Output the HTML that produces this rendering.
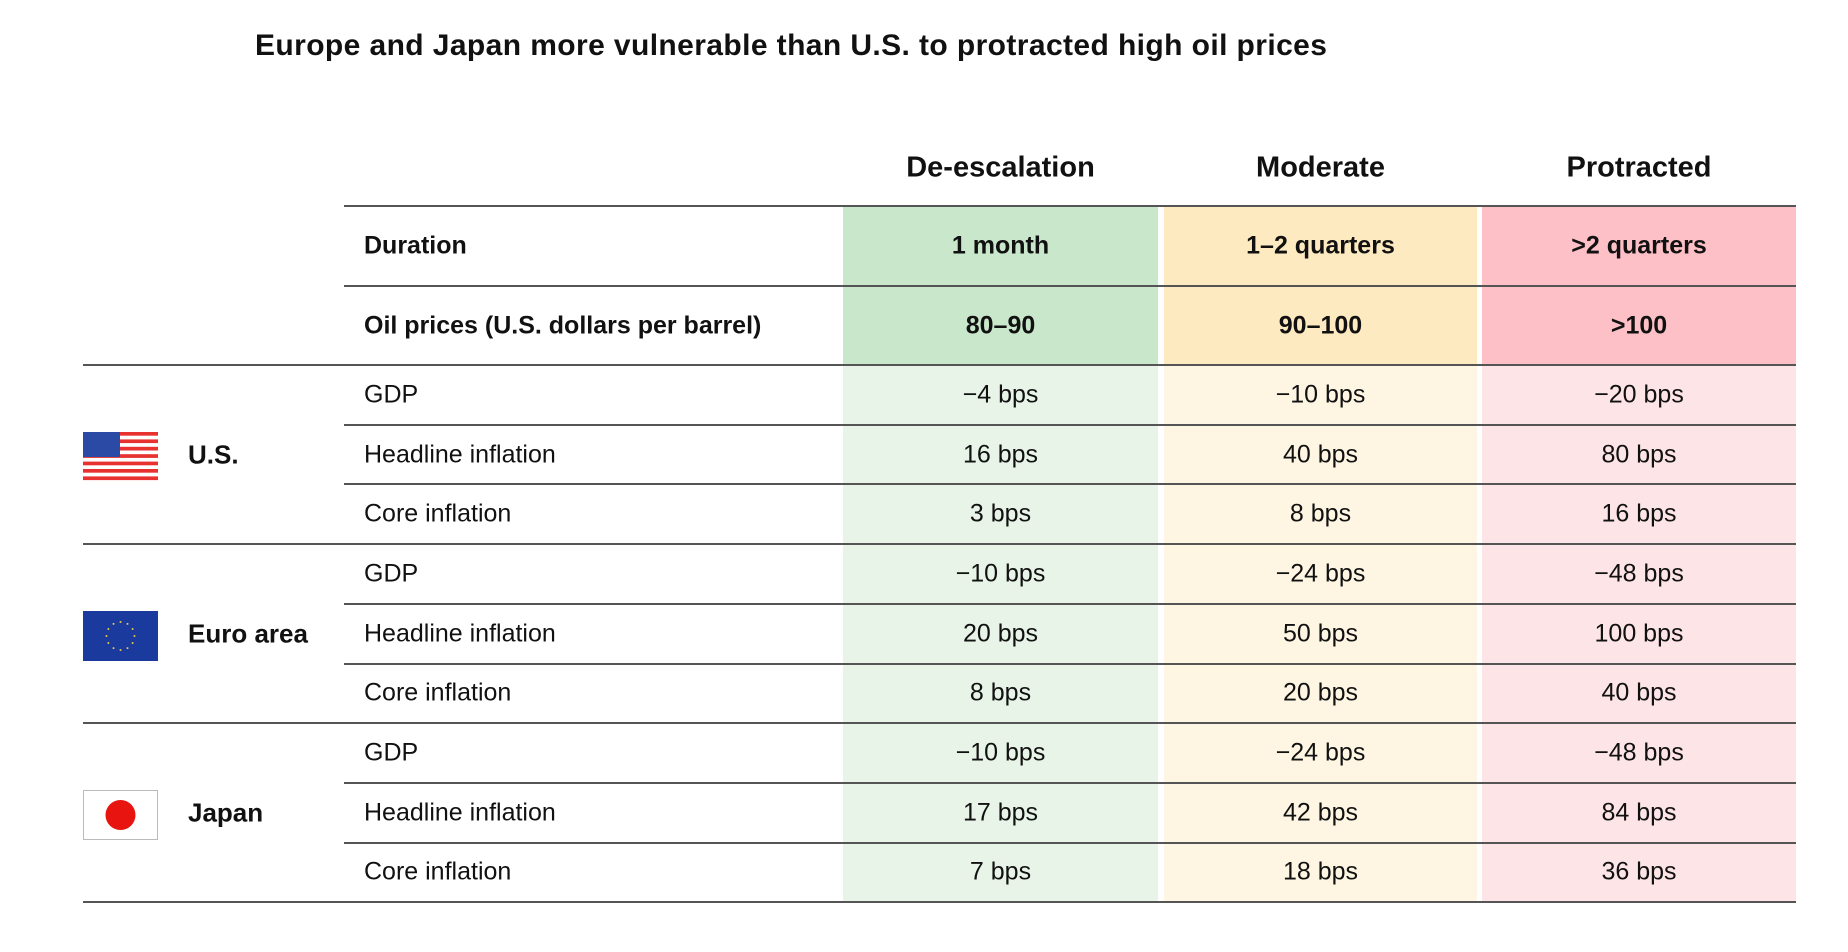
<!DOCTYPE html>
<html><head><meta charset="utf-8">
<style>
body{margin:0;width:1848px;height:952px;background:#fff;position:relative;overflow:hidden;font-family:"Liberation Sans",sans-serif;color:#111;}
.a{position:absolute;}
.t{position:absolute;white-space:nowrap;transform:translate(-50%,-50%);}
.l{position:absolute;white-space:nowrap;transform:translateY(-50%);}
.hl{position:absolute;height:2px;background:#555;}
</style></head><body>
<div class="l" style="left:255px;top:46px;font-size:30px;font-weight:bold;letter-spacing:0.4px;">Europe and Japan more vulnerable than U.S. to protracted high oil prices</div>
<script>
const scenarios=["De-escalation","Moderate","Protracted"];
const durations=["1 month","1–2 quarters",">2 quarters"];
const oilPrices=["80–90","90–100",">100"];
const countries=["U.S.","Euro area","Japan"];
const metrics=["GDP","Headline inflation","Core inflation"];
const usValues=[[-4,-10,-20],[16,40,80],[3,8,16]];
const euValues=[[-10,-24,-48],[20,50,100],[8,20,40]];
const jpValues=[[-10,-24,-48],[17,42,84],[7,18,36]];
const allValues=[usValues,euValues,jpValues];

const colX=[843,1164,1482], colW=[315,313,314];
const hdrFill=["#c9e7ca","#fdeac0","#fdc0c6"];
const bodyFill=["#e8f4e8","#fef6e3","#fde4e6"];
const root=document.body;
function mk(cls,style,text){const d=document.createElement('div');d.className=cls;d.style.cssText=style;if(text!==undefined)d.textContent=text;root.appendChild(d);return d;}
function fmt(v){return (v<0?'\u2212'+Math.abs(v):v)+' bps';}
const topY=206, hdrRowH=80, bodyTop=365, rowH=59.7, lineL=344, lineR=1796;
for(let c=0;c<3;c++){
  let e=mk('a',`left:${colX[c]}px;top:${topY}px;width:${colW[c]}px;height:${bodyTop-topY}px;background:${hdrFill[c]}`);
  
  
  e=mk('a',`left:${colX[c]}px;top:${bodyTop}px;width:${colW[c]}px;height:${9*rowH}px;background:${bodyFill[c]}`);
  
  
  e=mk('t',`left:${colX[c]+colW[c]/2}px;top:168px;font-size:29px;font-weight:bold`,scenarios[c]);
  
  
  e=mk('t',`left:${colX[c]+colW[c]/2}px;top:${topY+hdrRowH/2}px;font-size:25px;font-weight:bold`,durations[c]);
  
  
  e=mk('t',`left:${colX[c]+colW[c]/2}px;top:${topY+hdrRowH*1.5}px;font-size:25px;font-weight:bold`,oilPrices[c]);
  
  
}
let e=mk('l',`left:364px;top:${topY+hdrRowH/2}px;font-size:25px;font-weight:bold`,'Duration');


e=mk('l',`left:364px;top:${topY+hdrRowH*1.5}px;font-size:25px;font-weight:bold`,'Oil prices (U.S. dollars per barrel)');


[topY,topY+hdrRowH].forEach(y=>{const h=mk('hl',`left:${lineL}px;top:${y-1}px;width:${lineR-lineL}px`);

});
const flags=[
`<svg width="75" height="50" viewBox="0 0 75 50">${Array.from({length:7},(_,i)=>`<rect x="0" y="${i*7.4}" width="75" height="3.7" fill="#e8322f"/>`).join('')}<rect x="0" y="0" width="37" height="25" fill="#2a4aa5"/></svg>`,
`<svg width="75" height="50" viewBox="0 0 75 50"><rect width="75" height="50" fill="#1b3a9e"/>${Array.from({length:12},(_,i)=>`<circle cx="${37.5+14*Math.cos(i*Math.PI/6)}" cy="${25+14*Math.sin(i*Math.PI/6)}" r="1" fill="#e8c84a"/>`).join('')}</svg>`,
`<svg width="75" height="50" viewBox="0 0 75 50"><rect x="0.5" y="0.5" width="74" height="49" fill="#fff" stroke="#bbb"/><circle cx="37.5" cy="25" r="15" fill="#e8140f"/></svg>`];
for(let g=0;g<3;g++){
  const gTop=bodyTop+g*3*rowH;
  let h=mk('hl',`left:83px;top:${gTop-1}px;width:${lineR-83}px`);
  
  
  const f=mk('a',`left:83px;top:${gTop+1.5*rowH-23}px;width:75px;height:50px`);
  f.innerHTML=flags[g];
  
  
  let c=mk('l',`left:188px;top:${gTop+1.5*rowH}px;font-size:26px;font-weight:bold`,countries[g]);
  
  
  for(let r=0;r<3;r++){
    const y=gTop+r*rowH;
    if(r>0){h=mk('hl',`left:${lineL}px;top:${y-1}px;width:${lineR-lineL}px`);
      
      }
    let m=mk('l',`left:364px;top:${y+rowH/2}px;font-size:25px`,metrics[r]);
    
    
    for(let k=0;k<3;k++){
      let v=mk('t',`left:${colX[k]+colW[k]/2}px;top:${y+rowH/2}px;font-size:25px`,fmt(allValues[g][r][k]));
      
      
    }
  }
}
let b=mk('hl',`left:83px;top:${bodyTop+9*rowH-1}px;width:${lineR-83}px`);


</script>
</body></html>
